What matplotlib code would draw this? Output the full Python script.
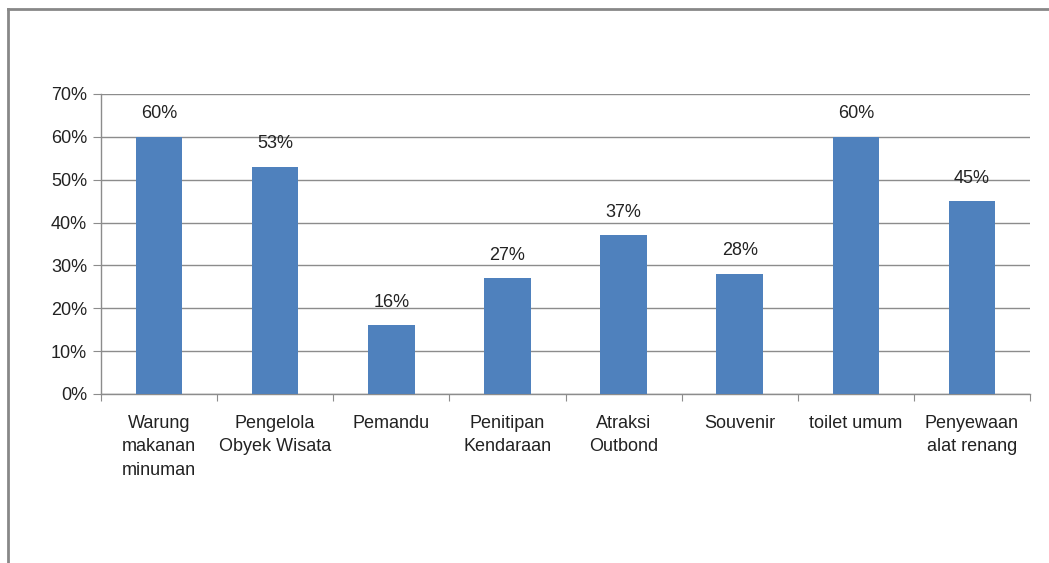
"""Bar chart: fasilitas wisata (persentase)."""
import matplotlib
matplotlib.use("Agg")
import matplotlib.pyplot as plt  # noqa: E402
from matplotlib.lines import Line2D  # noqa: E402
from matplotlib.ticker import FuncFormatter  # noqa: E402

categories = ["Warung\nmakanan\nminuman", "Pengelola\nObyek Wisata", "Pemandu",
              "Penitipan\nKendaraan", "Atraksi\nOutbond", "Souvenir",
              "toilet umum", "Penyewaan\nalat renang"]
values = [60, 53, 16, 27, 37, 28, 60, 45]
yticks = [0, 10, 20, 30, 40, 50, 60, 70]

plt.rcParams["font.family"] = ["Liberation Sans", "DejaVu Sans"]
W, H = 1049, 563
fig = plt.figure(figsize=(W / 100, H / 100), dpi=100)
ax = fig.add_axes([101 / W, 1 - 394 / H, (1030 - 101) / W, 300 / H])

grid_c = "#8c8c8c"
x = list(range(len(values)))
ax.bar(x, values, width=0.4, color="#4f81bd", zorder=3)
for xi, v in zip(x, values):
    ax.text(xi, v + 3.4, f"{v}%", ha="center", va="bottom", fontsize=13, color="#222222")

ax.set_xlim(-0.5, len(values) - 0.5)
ax.set_ylim(0, 70)
ax.set_yticks(yticks)
ax.yaxis.set_major_formatter(FuncFormatter(lambda v, _: f"{v:.0f}%"))
ax.grid(axis="y", color=grid_c, lw=1, zorder=0)

ax.set_xticks([i - 0.5 for i in range(len(values) + 1)])
ax.set_xticklabels([])
ax.set_xticks(x, minor=True)
ax.set_xticklabels(categories, minor=True, fontsize=13, color="#222222", linespacing=1.5)
ax.tick_params(axis="x", which="major", length=5, color=grid_c, direction="out")
ax.tick_params(axis="x", which="minor", length=0, pad=15)
ax.tick_params(axis="y", length=6, color=grid_c, labelsize=13, labelcolor="#222222", pad=4)

for s in ("top", "right"):
    ax.spines[s].set_visible(False)
for s in ("left", "bottom"):
    ax.spines[s].set_color(grid_c)
    ax.spines[s].set_linewidth(1)

# outer chart frame (only left/top edges are visible in the crop)
fig.add_artist(Line2D([8 / W, 8 / W], [0, 1 - 9 / H], color="#888888", lw=2))
fig.add_artist(Line2D([8 / W, 1], [1 - 9 / H, 1 - 9 / H], color="#888888", lw=2))

fig.savefig("out.png", dpi=100)
